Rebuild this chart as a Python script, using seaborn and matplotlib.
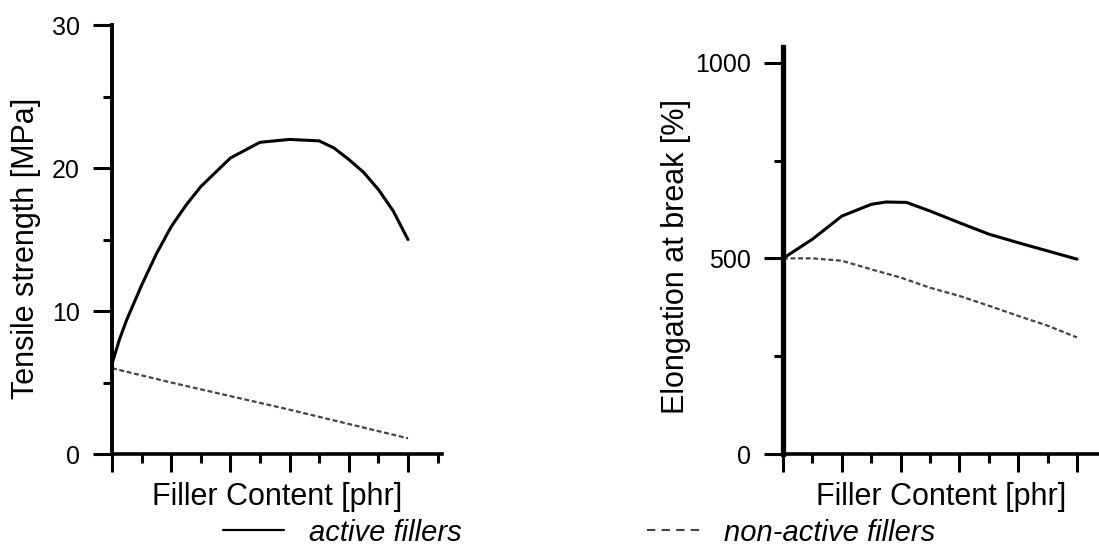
import matplotlib
matplotlib.use("Agg")
import matplotlib.pyplot as plt
from matplotlib.lines import Line2D
from matplotlib.ticker import MultipleLocator
import seaborn as sns

# ---- data ----
ts_active_x = [0, 0.25, 0.5, 1, 1.5, 2, 2.5, 3, 4, 5, 6, 7, 7.5, 8, 8.5, 9, 9.5, 10]
ts_active_y = [6.3, 8.0, 9.4, 11.8, 14.0, 15.9, 17.4, 18.7, 20.7, 21.8, 22.0, 21.9, 21.4, 20.6, 19.7, 18.5, 17.0, 15.0]
ts_nonactive_x = [0, 2, 4, 6, 8, 10]
ts_nonactive_y = [6.0, 5.0, 4.05, 3.1, 2.1, 1.1]

el_active_x = [0, 1, 2, 3, 3.5, 4.2, 5, 6, 7, 8, 9, 10]
el_active_y = [500, 549, 608, 638, 644, 643, 621, 591, 562, 540, 519, 498]
el_nonactive_x = [0, 1, 2, 3, 4, 5, 6, 7, 8, 9, 10]
el_nonactive_y = [500, 500, 494, 472, 451, 425, 404, 379, 353, 328, 298]

xlabel = "Filler Content [phr]"
ylabel_left = "Tensile strength [MPa]"
ylabel_right = "Elongation at break [%]"
legend_labels = ["active fillers", "non-active fillers"]

sns.set_style("ticks")
plt.rcParams["font.family"] = ["Liberation Sans", "DejaVu Sans"]
for k in ["text.color", "axes.labelcolor", "xtick.color", "ytick.color", "axes.edgecolor"]:
    plt.rcParams[k] = "black"

fig = plt.figure(figsize=(10.99, 5.49), dpi=100)
axL = fig.add_axes([0.1019, 0.1730, 0.3003, 0.7814])
axR = fig.add_axes([0.7125, 0.1730, 0.2875, 0.7413])

solid_kw = dict(color="black", linewidth=2.2)
dot_kw = dict(color="#444444", linewidth=1.6, linestyle=(0, (2.2, 1.2)))

sns.lineplot(x=ts_active_x, y=ts_active_y, ax=axL, sort=False, **solid_kw)
sns.lineplot(x=ts_nonactive_x, y=ts_nonactive_y, ax=axL, sort=False, **dot_kw)
sns.lineplot(x=el_active_x, y=el_active_y, ax=axR, sort=False, **solid_kw)
sns.lineplot(x=el_nonactive_x, y=el_nonactive_y, ax=axR, sort=False, **dot_kw)

def style(ax, xmax, ymax, ymajor, yminor, ylabel, ylabcoords, spine_lw):
    ax.set_xlim(0, xmax)
    ax.set_ylim(0, ymax)
    for s in ["top", "right"]:
        ax.spines[s].set_visible(False)
    ax.spines["bottom"].set_linewidth(2.6)
    ax.spines["left"].set_linewidth(spine_lw)
    ax.xaxis.set_major_locator(MultipleLocator(2))
    ax.xaxis.set_minor_locator(MultipleLocator(1))
    ax.yaxis.set_major_locator(MultipleLocator(ymajor))
    ax.yaxis.set_minor_locator(MultipleLocator(yminor))
    ax.tick_params(axis="x", which="major", direction="out", length=13, width=2.2, labelbottom=False)
    ax.tick_params(axis="x", which="minor", direction="out", length=6.5, width=2.2)
    ax.tick_params(axis="y", which="major", direction="out", length=14, width=2.2,
                   labelsize=18, pad=9)
    ax.tick_params(axis="y", which="minor", direction="out", length=6.5, width=2.2)
    ax.set_xlabel(xlabel, fontsize=22)
    ax.xaxis.label.set_va("center")
    ax.set_ylabel(ylabel, fontsize=22)
    ax.yaxis.label.set_va("center")
    ax.yaxis.set_label_coords(*ylabcoords)
    ax.grid(False)
    ax.set_facecolor("white")

style(axL, 11.15, 30, 10, 5, ylabel_left, (-0.261, 0.48), 2.8)
axL.xaxis.set_label_coords(0.5, -0.10)
style(axR, 10.75, 1040, 500, 250, ylabel_right, (-0.339, 0.486), 3.8)
axR.xaxis.set_label_coords(0.5, -0.1057)
axR.set_yticks([0, 500, 1000])

h1 = [Line2D([], [], color="black", linewidth=1.6)]
h2 = [Line2D([], [], color="#444444", linewidth=1.5, linestyle=(0, (4, 3)))]
leg1 = fig.legend(h1, [legend_labels[0]], loc="center left", bbox_to_anchor=(0.203, 0.030),
                  frameon=False, handlelength=2.1, handletextpad=0.86, borderpad=0,
                  borderaxespad=0, prop={"size": 21, "style": "italic"})
leg2 = fig.legend(h2, [legend_labels[1]], loc="center left", bbox_to_anchor=(0.589, 0.030),
                  frameon=False, handlelength=1.82, handletextpad=0.8, borderpad=0,
                  borderaxespad=0, prop={"size": 21, "style": "italic"})

fig.savefig("out.png", dpi=100, facecolor="white")
